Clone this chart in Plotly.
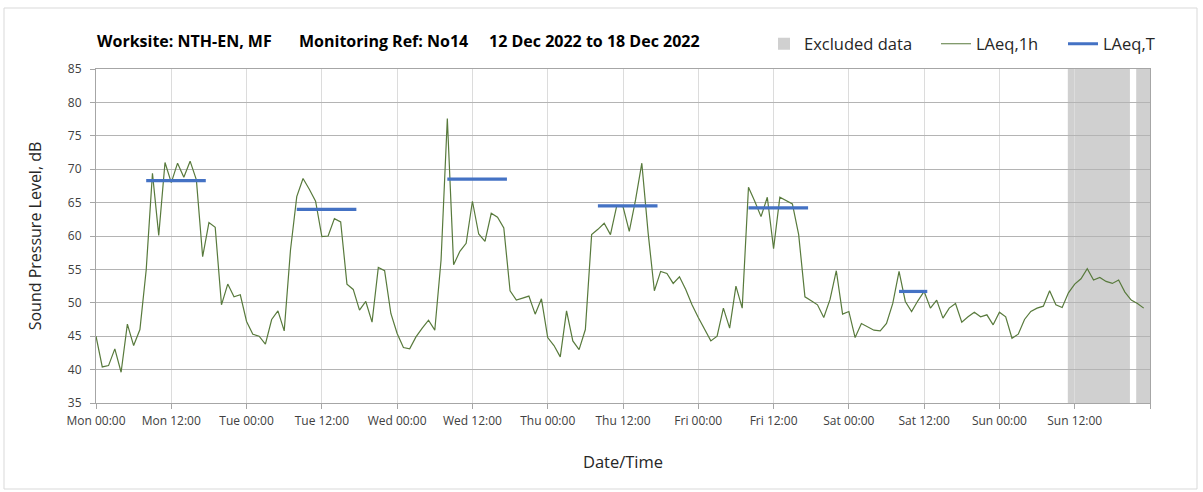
import plotly.graph_objects as go

# ---------------- data ----------------
tick_labels = ["Mon 00:00", "Mon 12:00", "Tue 00:00", "Tue 12:00", "Wed 00:00", "Wed 12:00",
               "Thu 00:00", "Thu 12:00", "Fri 00:00", "Fri 12:00", "Sat 00:00", "Sat 12:00",
               "Sun 00:00", "Sun 12:00", ""]
tick_hours = [0, 12, 24, 36, 48, 60, 72, 84, 96, 108, 120, 132, 144, 156, 168]

laeq_1h = [
    45.0, 40.4, 40.6, 43.1, 39.6, 46.8, 43.6, 46.0, 54.9, 69.4, 60.1, 71.0, 68.0, 70.9,
    68.8, 71.2, 68.4, 56.9, 62.0, 61.3, 49.7, 52.8, 50.9, 51.2, 47.2, 45.3, 45.0, 43.8,
    47.5, 48.8, 45.8, 57.9, 65.9, 68.6, 67.0, 65.2, 59.9, 60.0, 62.6, 62.1, 52.8, 52.0,
    48.9, 50.2, 47.1, 55.3, 54.8, 48.4, 45.4, 43.3, 43.1, 44.9, 46.2, 47.4, 45.9, 56.4,
    77.6, 55.7, 57.7, 58.9, 65.2, 60.3, 59.2, 63.4, 62.8, 61.2, 51.8, 50.4, 50.7, 51.0,
    48.3, 50.6, 44.8, 43.6, 41.9, 48.8, 44.3, 43.0, 46.0, 60.2, 61.0, 61.9, 60.2, 64.5,
    64.4, 60.7, 65.4, 70.9, 60.5, 51.8, 54.7, 54.4, 52.9, 53.9, 52.0, 49.7, 47.8, 46.0,
    44.3, 45.0, 49.2, 46.2, 52.5, 49.2, 67.3, 65.2, 62.9, 65.8, 58.1, 65.8, 65.3, 64.8,
    60.2, 50.9, 50.3, 49.7, 47.8, 50.5, 54.8, 48.3, 48.7, 44.8, 46.9, 46.4, 45.9, 45.8,
    46.9, 49.9, 54.7, 50.2, 48.7, 50.3, 51.7, 49.2, 50.4, 47.7, 49.2, 49.9, 47.1, 47.9,
    48.6, 47.9, 48.2, 46.7, 48.6, 47.9, 44.7, 45.3, 47.5, 48.7, 49.2, 49.5, 51.8, 49.7,
    49.3, 51.5, 52.8, 53.6, 55.1, 53.4, 53.8, 53.2, 52.9, 53.4, 51.6, 50.4, 49.9, 49.2,
]
hours = list(range(len(laeq_1h)))

laeqt_start = [8, 32, 56, 80, 104, 128]
laeqt_end = [17.5, 41.5, 65.5, 89.5, 113.5, 132.5]
laeqt_value = [68.3, 64.0, 68.5, 64.5, 64.2, 51.7]

excluded_start = [154.9, 165.8]
excluded_end = [164.8, 168.0]

# ---------------- figure ----------------
FONT = "Open Sans"
fig = go.Figure()

fig.add_trace(go.Bar(x=[None], y=[None], name="Excluded data",
                     marker=dict(color="#d0d0d0", line=dict(width=0)),
                     legend="legend", hoverinfo="skip"))

fig.add_trace(go.Scatter(x=hours, y=laeq_1h, mode="lines", name="LAeq,1h",
                         line=dict(color="#587a3c", width=1.2), legend="legend2"))

bx, by = [], []
for s, e, v in zip(laeqt_start, laeqt_end, laeqt_value):
    bx += [s, e, None]
    by += [v, v, None]
fig.add_trace(go.Scatter(x=bx, y=by, mode="lines", name="LAeq,T",
                         line=dict(color="#4472c4", width=3.2), legend="legend3"))

for s, e in zip(excluded_start, excluded_end):
    fig.add_shape(type="rect", xref="x", yref="y domain", x0=s, x1=e, y0=0, y1=1,
                  fillcolor="#d0d0d0", line=dict(width=0), layer="below")

W, H = 1203, 492
L, R, T, B = 96, 53, 69, 89
pw, ph = W - L - R, H - T - B


def px_x(p):
    return (p - L) / pw


def px_y(p):
    return (H - B - p) / ph


# outer chart border
fig.add_shape(type="rect", xref="paper", yref="paper",
              x0=px_x(4), x1=px_x(1197), y0=px_y(489), y1=px_y(8),
              line=dict(color="#d9d9d9", width=1), fillcolor="rgba(0,0,0,0)", layer="below")

title_parts = [("Worksite: NTH-EN, MF", 95), ("Monitoring Ref: No14", 297),
               ("12 Dec 2022 to 18 Dec 2022", 487)]
for txt, xp in title_parts:
    fig.add_annotation(text="<b>%s</b>" % txt, xref="paper", yref="paper",
                       x=px_x(xp), y=px_y(41), xanchor="left", yanchor="middle",
                       showarrow=False, font=dict(family=FONT, size=16, color="#000000"))

leg_common = dict(orientation="h", yanchor="middle", y=px_y(44), xanchor="left",
                  font=dict(family=FONT, size=16.5, color="#262626"),
                  bgcolor="rgba(0,0,0,0)", borderwidth=0)
fig.update_layout(
    width=W, height=H,
    margin=dict(l=L, r=R, t=T, b=B),
    paper_bgcolor="white", plot_bgcolor="white",
    showlegend=True,
    legend=dict(x=px_x(764), **leg_common),
    legend2=dict(x=px_x(936), **leg_common),
    legend3=dict(x=px_x(1063), **leg_common),
    font=dict(family=FONT, size=12, color="#404040"),
)

fig.update_xaxes(range=[0, 168], tickmode="array", tickvals=tick_hours, ticktext=tick_labels,
                 showgrid=True, gridcolor="#dcdcdc", gridwidth=1,
                 showline=True, linecolor="#a6a6a6", linewidth=1, mirror=True,
                 ticks="outside", ticklen=5, tickcolor="#a6a6a6", ticklabelstandoff=2,
                 tickfont=dict(family=FONT, size=12, color="#404040"),
                 title=dict(text="Date/Time", font=dict(family=FONT, size=16.5, color="#262626"),
                            standoff=28),
                 zeroline=False)
fig.update_yaxes(range=[35, 85], dtick=5, tick0=35,
                 showgrid=True, gridcolor="#b4b4b4", gridwidth=1,
                 showline=True, linecolor="#a6a6a6", linewidth=1, mirror=True,
                 ticks="outside", ticklen=5, tickcolor="#a6a6a6", ticklabelstandoff=6,
                 tickfont=dict(family=FONT, size=12, color="#404040"),
                 title=dict(text="Sound Pressure Level, dB",
                            font=dict(family=FONT, size=16, color="#262626"), standoff=22),
                 zeroline=False)

fig.write_html("out.html", config={"displayModeBar": False},
               post_script="document.body.style.margin='0';")
